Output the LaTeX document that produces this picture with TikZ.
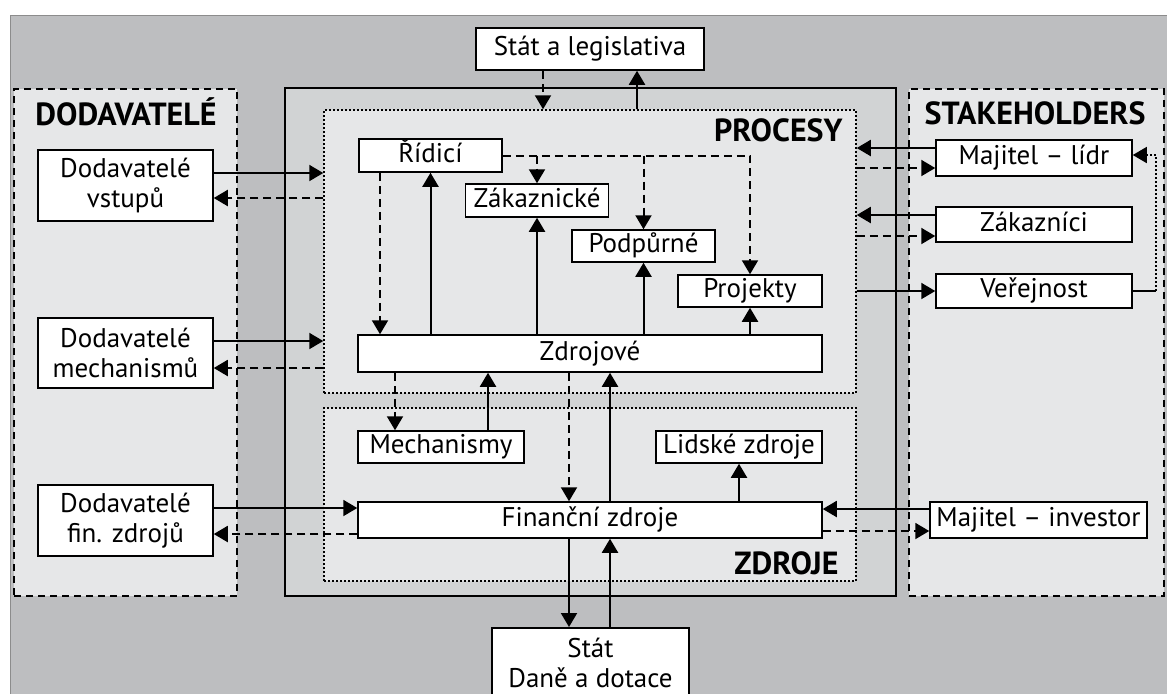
\documentclass[tikz,border=0pt]{standalone}
\usepackage{fontspec}
\setmainfont{PT Sans}
\usetikzlibrary{arrows.meta,fit}
\definecolor{bgfill}{RGB}{189,190,192}
\definecolor{orgfill}{RGB}{209,211,212}
\definecolor{grpfill}{RGB}{230,231,232}
\tikzset{
  box/.style={draw, rectangle, fill=white, line width=0.75pt, inner sep=1pt, align=center, font=\fontsize{13.5}{15}\selectfont},
  one/.style={box, text height=9.8pt, text depth=2.9pt},
  grp/.style={draw, rectangle, fill=grpfill, inner sep=0pt, line width=1pt, dash pattern=on 3.5pt off 2.5pt},
  part/.style={draw, rectangle, fill=grpfill, inner sep=0pt, line width=0.75pt, dash pattern=on 1pt off 1pt},
  head/.style={font=\bfseries\fontsize{16}{18}\selectfont, inner sep=0pt},
  sl/.style={->, line width=1pt},
  dl/.style={->, line width=1pt, dash pattern=on 4pt off 2.5pt},
}
\begin{document}
\begin{tikzpicture}[x=0.5pt, y=-0.5pt, >={Triangle[length=7pt,width=8pt]}]
\clip (0,0) rectangle (1167,693);
\fill[white] (0,0) rectangle (1167,693);
\draw[fill=bgfill, draw=black!45, line width=0.5pt] (10,15) rectangle (1180,710);
\node[grp, fit={(14,89) (237,596)}] (dodbox) {};
\node[draw, rectangle, fill=orgfill, inner sep=0pt, line width=1pt, fit={(285,88) (896,596)}] (org) {};
\node[grp, fit={(909,89) (1164,596)}] (stkbox) {};
\node[part, fit={(324,110) (856,393)}] (pro) {};
\node[part, fit={(324,408) (856,581)}] (zdr) {};

\node[head] (dodlab) at (126,112) {DODAVATELÉ};
\node[head] (stklab) at (1035,113) {STAKEHOLDERS};
\node[head, anchor=east] (prolab) at (843,130) {PROCESY};
\node[head, anchor=east] (zdrlab) at (839,563) {ZDROJE};

\node[box, minimum width=87.5pt, minimum height=35.5pt] (dvst) at (125.5,185.5) {Dodavatelé\\vstupů};
\node[box, minimum width=87.5pt, minimum height=35pt] (dmech) at (125.5,353) {Dodavatelé\\mechanismů};
\node[box, minimum width=87.5pt, minimum height=35.5pt] (dfin) at (125.5,520.5) {Dodavatelé\\fin. zdrojů};
\node[one, minimum width=114pt, minimum height=21pt] (stat) at (590,49) {Stát a legislativa};
\node[one, minimum width=71.5pt, minimum height=16.5pt] (ridi) at (430.5,155.5) {Řídicí};
\node[one, minimum width=71.5pt, minimum height=16.5pt] (zak) at (537,200.5) {Zákaznické};
\node[one, minimum width=71.5pt, minimum height=16pt] (pod) at (643.5,246) {Podpůrné};
\node[one, minimum width=72pt, minimum height=16pt] (proj) at (750,291) {Projekty};
\node[one, minimum width=232pt, minimum height=18.5pt] (zdroj) at (590,353.5) {Zdrojové};
\node[one, minimum width=83pt, minimum height=16pt] (mech) at (441,447) {Mechanismy};
\node[one, minimum width=83pt, minimum height=16pt] (lid) at (739,447) {Lidské zdroje};
\node[one, minimum width=232pt, minimum height=18pt] (fin) at (590,520) {Finanční zdroje};
\node[box, minimum width=98.5pt, minimum height=35pt, anchor=north] (dan) at (590.5,627) {Stát\\Daně a dotace};
\node[one, minimum width=98pt, minimum height=18pt] (majl) at (1034,158) {Majitel – lídr};
\node[one, minimum width=98pt, minimum height=17.5pt] (zakz) at (1034,224.5) {Zákazníci};
\node[one, minimum width=98pt, minimum height=17pt] (ver) at (1034,291) {Veřejnost};
\node[one, minimum width=108.5pt, minimum height=18pt] (maji) at (1038.5,520) {Majitel – investor};

\draw[sl] ([yshift=6.25pt]dvst.east) -- ([yshift=6.25pt]dvst.east -| pro.west);
\draw[dl] ([yshift=-6.25pt]dvst.east -| pro.west) -- ([yshift=-6.25pt]dvst.east);
\draw[sl] ([yshift=6pt]dmech.east) -- ([yshift=6pt]dmech.east -| pro.west);
\draw[dl] ([yshift=-7.5pt]dmech.east -| pro.west) -- ([yshift=-7.5pt]dmech.east);
\draw[sl] ([yshift=6.25pt]dfin.east) -- ([yshift=6.25pt]dfin.east -| fin.west);
\draw[dl] ([yshift=-6.75pt]dfin.east -| fin.west) -- ([yshift=-6.75pt]dfin.east);

\draw[dl] ([xshift=-23.5pt]stat.south) -- ([xshift=-23.5pt]stat.south |- pro.north);
\draw[sl] ([xshift=23.5pt]stat.south |- pro.north) -- ([xshift=23.5pt]stat.south);

\draw[dl] ([xshift=-25.25pt]ridi.south) -- ([xshift=-25.25pt]ridi.south |- zdroj.north);
\draw[sl] (ridi.south |- zdroj.north) -- (ridi.south);
\draw[dl] (ridi.east) -| (proj.north);
\draw[dl] (ridi.east -| zak.north) -- (zak.north);
\draw[dl] (ridi.east -| pod.north) -- (pod.north);
\draw[sl] (zak.south |- zdroj.north) -- (zak.south);
\draw[sl] (pod.south |- zdroj.north) -- (pod.south);
\draw[sl] (proj.south |- zdroj.north) -- (proj.south);

\draw[dl] ([xshift=-23pt]mech.north |- zdroj.south) -- ([xshift=-23pt]mech.north);
\draw[sl] ([xshift=23.5pt]mech.north) -- ([xshift=23.5pt]mech.north |- zdroj.south);
\draw[dl] ([xshift=-10.5pt]zdroj.south) -- ([xshift=-10.5pt]zdroj.south |- fin.north);
\draw[sl] ([xshift=10pt]zdroj.south |- fin.north) -- ([xshift=10pt]zdroj.south);
\draw[sl] (lid.south |- fin.north) -- (lid.south);
\draw[sl] ([xshift=-10.5pt]fin.south) -- ([xshift=-10.5pt]fin.south |- dan.north);
\draw[sl] ([xshift=10pt]fin.south |- dan.north) -- ([xshift=10pt]fin.south);

\draw[sl] ([yshift=5pt]majl.west) -- ([yshift=5pt]majl.west -| pro.east);
\draw[dl] ([yshift=-5pt]majl.west -| pro.east) -- ([yshift=-5pt]majl.west);
\draw[sl] ([yshift=4.75pt]zakz.west) -- ([yshift=4.75pt]zakz.west -| pro.east);
\draw[dl] ([yshift=-5.75pt]zakz.west -| pro.east) -- ([yshift=-5.75pt]zakz.west);
\draw[sl] (ver.west -| pro.east) -- (ver.west);
\draw[sl] ([yshift=5.5pt]maji.west) -- ([yshift=5.5pt]maji.west -| fin.east);
\draw[dl] ([yshift=-5.5pt]maji.west -| fin.east) -- ([yshift=-5.5pt]maji.west);
\draw[line width=1pt] (ver.east) -- ++(23,0) coordinate (vr);
\draw[->, line width=0.75pt, dash pattern=on 1pt off 1pt] (vr) |- ([yshift=1.5pt]majl.east);
\end{tikzpicture}
\end{document}
